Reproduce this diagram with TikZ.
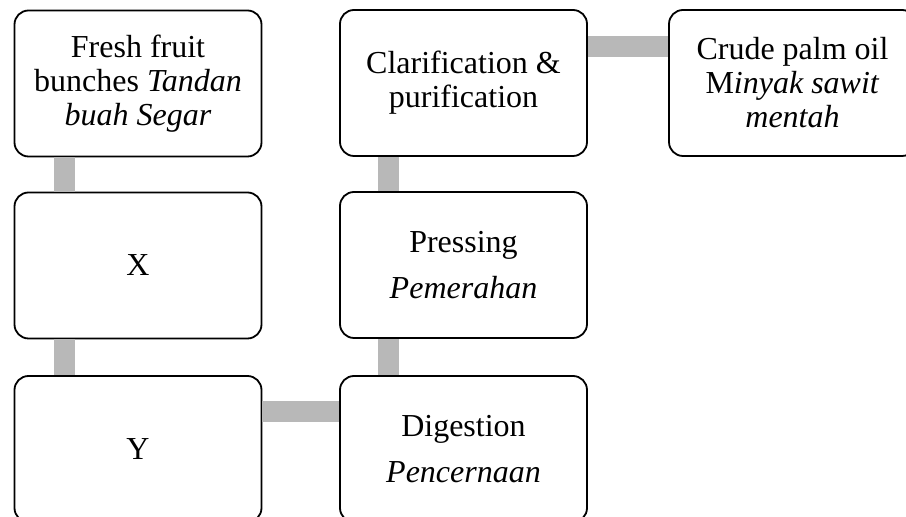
\documentclass[tikz,border=0pt]{standalone}
\usepackage{fontspec}
\setmainfont{Liberation Serif}
\usepackage{tikz}

\begin{document}
\begin{tikzpicture}[x=0.5pt, y=-0.5pt,
    box/.style={draw, line width=0.9pt, rounded corners=7pt, minimum width=123.5pt, minimum height=73pt, align=center, inner sep=2pt, font=\fontsize{16}{17}\selectfont},
    link/.style={line width=10.5pt, draw=black!28}]
    \useasboundingbox (0,0) rectangle (906,517);

    \node[box] (F) at (138,83.5) {Fresh fruit\\ bunches \textit{Tandan}\\ \textit{buah Segar}};
    \node[box] (X) at (138,265.5) {X};
    \node[box] (Y) at (138,449) {Y};
    \node[box] (D) at (463.5,449) {Digestion\\[6pt] \textit{Pencernaan}};
    \node[box] (P) at (463.5,265) {Pressing\\[6pt] \textit{Pemerahan}};
    \node[box] (C) at (463.5,83) {Clarification \&\\ purification};
    \node[box] (O) at (792.5,83) {Crude palm oil\\ M\textit{inyak sawit}\\ \textit{mentah}};

    \draw[link] ([xshift=25.25pt]F.south west) -- ([xshift=25.25pt]X.north west);
    \draw[link] ([xshift=25.25pt]X.south west) -- ([xshift=25.25pt]Y.north west);
    \draw[link] ([yshift=-18pt]Y.north east) -- ([yshift=-18pt]D.north west);
    \draw[link] ([xshift=24.5pt]D.north west) -- ([xshift=24.5pt]P.south west);
    \draw[link] ([xshift=24.5pt]P.north west) -- ([xshift=24.5pt]C.south west);
    \draw[link] ([yshift=-18.5pt]C.north east) -- ([yshift=-18.5pt]O.north west);
\end{tikzpicture}
\end{document}
